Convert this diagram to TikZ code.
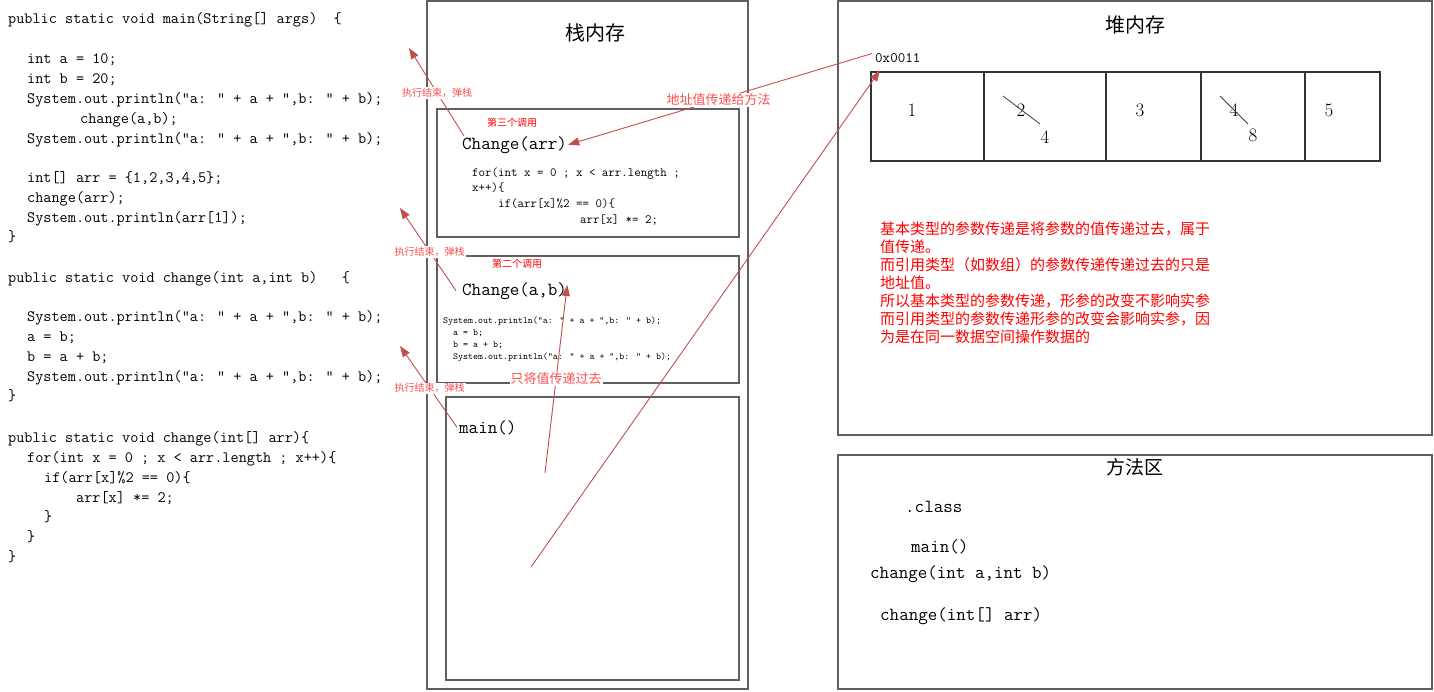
\documentclass[tikz,border=0pt]{standalone}
\usepackage{fontspec}
\newfontfamily\cjk{Noto Sans CJK SC}
\usetikzlibrary{arrows.meta}
\definecolor{arrowred}{RGB}{192,80,77}
\definecolor{lblred}{RGB}{250,80,80}
\definecolor{boxgray}{RGB}{95,95,95}
\begin{document}
\begin{tikzpicture}[x=1pt,y=-1pt,
  code/.style={anchor=base west,inner sep=0pt,font=\fontsize{15.8}{18}\selectfont\ttfamily},
  bigcode/.style={anchor=base west,inner sep=0pt,font=\fontsize{18.5}{20}\selectfont\ttfamily},
  midcode/.style={anchor=base west,inner sep=0pt,font=\fontsize{12.6}{14}\selectfont\ttfamily},
  smallcode/.style={anchor=base west,inner sep=0pt,font=\fontsize{9.5}{11}\selectfont\ttfamily},
  title/.style={inner sep=0pt,font=\fontsize{20}{22}\selectfont\cjk},
  calltag/.style={inner sep=0pt,text=red,font=\fontsize{10}{11}\selectfont\cjk},
  poplbl/.style={fill=white,inner sep=1pt,text=lblred,font=\fontsize{10}{11}\selectfont\cjk},
  passlbl/.style={fill=white,inner sep=1pt,text=lblred,font=\fontsize{13}{14}\selectfont\cjk},
  num/.style={inner sep=0pt,font=\fontsize{19}{20}\selectfont},
  outerbox/.style={draw=boxgray,line width=1.1pt},
  innerbox/.style={draw=boxgray,line width=1.6pt},
  cellline/.style={draw=black!80,line width=1.2pt},
  conn/.style={draw=arrowred,line width=0.9pt,-{Triangle[length=11pt,width=8pt]}},
  plainconn/.style={draw=arrowred,line width=0.9pt}
]
\useasboundingbox (0,0) rectangle (1434,691);
\fill[white] (0,0) rectangle (1434,691);

% ---------------- left code ----------------
\node[code] (c1) at (8,23) {public static void main(String[] args)\ \ \{};
\node[code] (c2) at (27,63) {int a = 10;};
\node[code] (c3) at (27,83) {int b = 20;};
\node[code] (c4) at (27,103) {System.out.println("a: " + a + ",b: " + b);};
\node[code] (c5) at (80,123) {change(a,b);};
\node[code] (c6) at (27,143) {System.out.println("a: " + a + ",b: " + b);};
\node[code] (c7) at (27,182) {int[] arr = \{1,2,3,4,5\};};
\node[code] (c8) at (27,202) {change(arr);};
\node[code] (c9) at (27,222) {System.out.println(arr[1]);};
\node[code] (c10) at (8,241) {\}};
\node[code] (c11) at (8,282) {public static void change(int a,int b)\ \ \ \{};
\node[code] (c12) at (27,321) {System.out.println("a: " + a + ",b: " + b);};
\node[code] (c13) at (27,341) {a = b;};
\node[code] (c14) at (27,361) {b = a + b;};
\node[code] (c15) at (27,381) {System.out.println("a: " + a + ",b: " + b);};
\node[code] (c16) at (8,400) {\}};
\node[code] (c17) at (8,442) {public static void change(int[] arr)\{};
\node[code] (c18) at (27,462) {for(int x = 0 ; x < arr.length ; x++)\{};
\node[code] (c19) at (44,482) {if(arr[x]\%2 == 0)\{};
\node[code] (c20) at (76,502) {arr[x] *= 2;};
\node[code] (c21) at (44,521) {\}};
\node[code] (c22) at (27,541) {\}};
\node[code] (c23) at (8,561) {\}};

% ---------------- stack ----------------
\draw[outerbox] (427,1) rectangle (748,689);
\draw[innerbox] (437,109) rectangle (739,237);
\draw[innerbox] (437,256) rectangle (739,383);
\draw[innerbox] (446,397) rectangle (739,680);
\node[title] (stackT) at (595,33) {栈内存};

\node[calltag] (tag3) at (512,123) {第三个调用};
\node[bigcode] (chArr) at (462,149) {Change(arr)};
\node[midcode] (b3a) at (472,176) {for(int x = 0 ; x < arr.length ;};
\node[midcode] (b3b) at (472,191) {x++)\{};
\node[midcode] (b3c) at (498,207) {if(arr[x]\%2 == 0)\{};
\node[midcode] (b3d) at (580,223) {arr[x] *= 2;};

\node[calltag] (tag2) at (517,264) {第二个调用};
\node[bigcode] (chAB) at (462,295) {Change(a,b)};
\node[smallcode] (b2a) at (443,323) {System.out.println("a: " + a + ",b: " + b);};
\node[smallcode] (b2b) at (453,335) {a = b;};
\node[smallcode] (b2c) at (453,347) {b = a + b;};
\node[smallcode] (b2d) at (453,359) {System.out.println("a: " + a + ",b: " + b);};

\node[bigcode] (mainF) at (459,433) {main()};

% ---------------- heap ----------------
\draw[outerbox] (838,1) rectangle (1432,435);
\node[title] (heapT) at (1135,25) {堆内存};
\node[anchor=base west,inner sep=0pt,font=\fontsize{14.6}{16}\selectfont\ttfamily] (addr) at (875,62) {0x0011};
\draw[cellline] (871,72) rectangle (1380,161);
\draw[cellline] (984,72) -- (984,161);
\draw[cellline] (1106,72) -- (1106,161);
\draw[cellline] (1201,72) -- (1201,161);
\draw[cellline] (1305,72) -- (1305,161);
\node[num] (n1) at (912,110) {1};
\node[num] (n2) at (1021,110) {2};
\node[num] (n2b) at (1045,137) {4};
\node[num] (n3) at (1140,110) {3};
\node[num] (n4) at (1234,110) {4};
\node[num] (n4b) at (1253,135) {8};
\node[num] (n5) at (1329,110) {5};
\draw[black!75,line width=0.8pt] (1003,96) -- (1040,124);
\draw[black!75,line width=0.8pt] (1220,96) -- (1248,124);

\node[anchor=north west,inner sep=0pt,align=left,text=red,font=\fontsize{15}{18}\selectfont\cjk] (expl) at (880,222)
{基本类型的参数传递是将参数的值传递过去，属于\\
值传递。\\
而引用类型（如数组）的参数传递传递过去的只是\\
地址值。\\
所以基本类型的参数传递，形参的改变不影响实参\\
而引用类型的参数传递形参的改变会影响实参，因\\
为是在同一数据空间操作数据的};

% ---------------- method area ----------------
\draw[outerbox] (838,455) rectangle (1432,689);
\node[title,font=\fontsize{19}{21}\selectfont\cjk] (methT) at (1135,467) {方法区};
\node[bigcode] (m1) at (905,512) {.class};
\node[bigcode] (m2) at (911,552) {main()};
\node[bigcode] (m3) at (870,578) {change(int a,int b)};
\node[bigcode] (m4) at (880,620) {change(int[] arr)};

% ---------------- connectors ----------------
\coordinate (pop1) at (409,48);
\coordinate (pop2) at (400,208);
\coordinate (pop3) at (400,346);
\coordinate (valStart) at (545,473);
\coordinate (refStart) at (531,567);

\draw[conn] ([xshift=2pt]chArr.north west) -- node[poplbl,pos=0.49] (pl1) {执行结束，弹栈} (pop1);
\draw[conn] ([xshift=-6pt]chAB.west) -- node[poplbl,pos=0.47] (pl2) {执行结束，弹栈} (pop2);
\draw[conn] ([xshift=-2pt]mainF.west) -- node[poplbl,pos=0.48] (pl3) {执行结束，弹栈} (pop3);
\draw[conn] ([xshift=-3pt,yshift=4pt]addr.west) -- node[passlbl,pos=0.505] (al) {地址值传递给方法} ([xshift=1pt]chArr.east);
\draw[conn] (valStart) -- node[passlbl,pos=0.5] (vl) {只将值传递过去} ([yshift=-3pt]chAB.north east);
\draw[conn] (refStart) -- ([shift={(5pt,-8pt)}]addr.south west);
\end{tikzpicture}
\end{document}
